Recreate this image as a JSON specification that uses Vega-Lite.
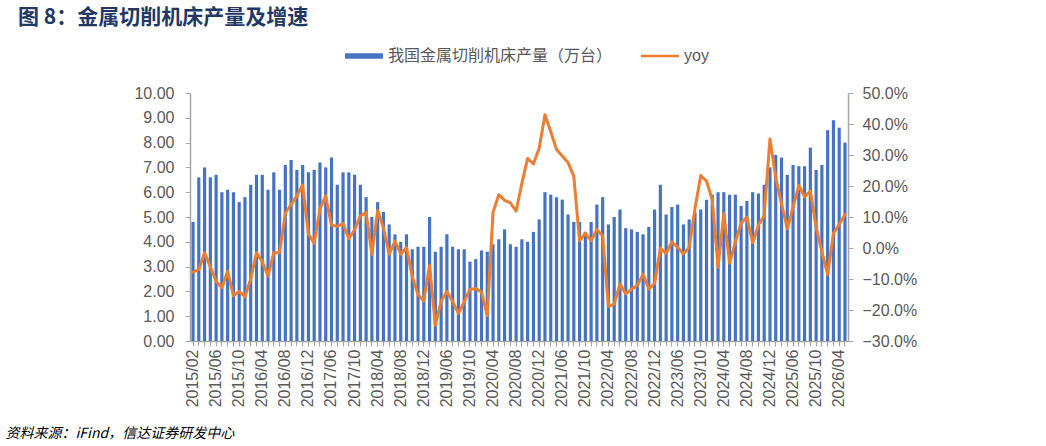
{
  "$schema": "https://vega.github.io/schema/vega-lite/v6.json",
  "autosize": {"type": "none"},
  "width": 658,
  "height": 248,
  "padding": {"left": 190, "top": 93, "right": 198, "bottom": 105},
  "background": "#ffffff",
  "title": {
    "text": "图 8：金属切削机床产量及增速",
    "anchor": "start",
    "frame": "group",
    "dx": -172,
    "fontSize": 21,
    "fontWeight": "bold",
    "font": "Noto Sans CJK SC",
    "color": "#1F3864",
    "offset": 9
  },
  "data": {
    "values": [
      {"m": "2015/02", "v": 4.8, "yoy": -7.8},
      {"m": "2015/03", "v": 6.6, "yoy": -7.0},
      {"m": "2015/04", "v": 7.0, "yoy": -1.5},
      {"m": "2015/05", "v": 6.6, "yoy": -6.1},
      {"m": "2015/06", "v": 6.7, "yoy": -10.7},
      {"m": "2015/07", "v": 6.0, "yoy": -12.8},
      {"m": "2015/08", "v": 6.1, "yoy": -7.5},
      {"m": "2015/09", "v": 6.0, "yoy": -15.4},
      {"m": "2015/10", "v": 5.6, "yoy": -14.0},
      {"m": "2015/11", "v": 5.8, "yoy": -15.7},
      {"m": "2015/12", "v": 6.3, "yoy": -10.0},
      {"m": "2016/03", "v": 6.7, "yoy": -1.5},
      {"m": "2016/04", "v": 6.7, "yoy": -4.4},
      {"m": "2016/05", "v": 6.1, "yoy": -9.0},
      {"m": "2016/06", "v": 6.8, "yoy": -1.5},
      {"m": "2016/07", "v": 6.1, "yoy": -1.5},
      {"m": "2016/08", "v": 7.1, "yoy": 11.2},
      {"m": "2016/09", "v": 7.3, "yoy": 14.1},
      {"m": "2016/10", "v": 6.9, "yoy": 16.8},
      {"m": "2016/11", "v": 7.1, "yoy": 20.3},
      {"m": "2016/12", "v": 6.8, "yoy": 4.5},
      {"m": "2017/03", "v": 6.9, "yoy": 1.5},
      {"m": "2017/04", "v": 7.2, "yoy": 12.6},
      {"m": "2017/05", "v": 7.0, "yoy": 16.8},
      {"m": "2017/06", "v": 7.4, "yoy": 7.3},
      {"m": "2017/07", "v": 6.3, "yoy": 7.0},
      {"m": "2017/08", "v": 6.8, "yoy": 7.9},
      {"m": "2017/09", "v": 6.8, "yoy": 3.0},
      {"m": "2017/10", "v": 6.7, "yoy": 5.8},
      {"m": "2017/11", "v": 6.3, "yoy": 10.4},
      {"m": "2017/12", "v": 5.8, "yoy": 11.4},
      {"m": "2018/03", "v": 5.0, "yoy": -2.0},
      {"m": "2018/04", "v": 5.6, "yoy": 12.1},
      {"m": "2018/05", "v": 5.2, "yoy": 6.5},
      {"m": "2018/06", "v": 4.7, "yoy": -2.0},
      {"m": "2018/07", "v": 4.3, "yoy": 2.2},
      {"m": "2018/08", "v": 4.0, "yoy": -2.0},
      {"m": "2018/09", "v": 4.3, "yoy": 0.2},
      {"m": "2018/10", "v": 3.7, "yoy": -9.3},
      {"m": "2018/11", "v": 3.8, "yoy": -15.1},
      {"m": "2018/12", "v": 3.8, "yoy": -17.1},
      {"m": "2019/03", "v": 5.0, "yoy": -5.6},
      {"m": "2019/04", "v": 3.6, "yoy": -25.0},
      {"m": "2019/05", "v": 3.8, "yoy": -17.1},
      {"m": "2019/06", "v": 4.3, "yoy": -14.0},
      {"m": "2019/07", "v": 3.8, "yoy": -17.3},
      {"m": "2019/08", "v": 3.7, "yoy": -21.1},
      {"m": "2019/09", "v": 3.7, "yoy": -17.4},
      {"m": "2019/10", "v": 3.2, "yoy": -13.3},
      {"m": "2019/11", "v": 3.3, "yoy": -13.1},
      {"m": "2019/12", "v": 3.65, "yoy": -14.2},
      {"m": "2020/03", "v": 3.6, "yoy": -21.8},
      {"m": "2020/04", "v": 3.9, "yoy": 11.5},
      {"m": "2020/05", "v": 4.1, "yoy": 17.2},
      {"m": "2020/06", "v": 4.5, "yoy": 15.4},
      {"m": "2020/07", "v": 3.9, "yoy": 14.6},
      {"m": "2020/08", "v": 3.8, "yoy": 11.9},
      {"m": "2020/09", "v": 4.1, "yoy": 20.9},
      {"m": "2020/10", "v": 4.0, "yoy": 28.9},
      {"m": "2020/11", "v": 4.4, "yoy": 27.1},
      {"m": "2020/12", "v": 4.9, "yoy": 32.2},
      {"m": "2021/03", "v": 6.0, "yoy": 43.0},
      {"m": "2021/04", "v": 5.9, "yoy": 37.6},
      {"m": "2021/05", "v": 5.8, "yoy": 31.8},
      {"m": "2021/06", "v": 5.7, "yoy": 29.7},
      {"m": "2021/07", "v": 5.1, "yoy": 27.6},
      {"m": "2021/08", "v": 4.8, "yoy": 23.1},
      {"m": "2021/09", "v": 4.8, "yoy": 2.3},
      {"m": "2021/10", "v": 4.4, "yoy": 4.8},
      {"m": "2021/11", "v": 4.8, "yoy": 2.3},
      {"m": "2021/12", "v": 5.5, "yoy": 6.0},
      {"m": "2022/03", "v": 5.8, "yoy": 3.9},
      {"m": "2022/04", "v": 4.7, "yoy": -18.8},
      {"m": "2022/05", "v": 5.0, "yoy": -18.1},
      {"m": "2022/06", "v": 5.3, "yoy": -11.6},
      {"m": "2022/07", "v": 4.55, "yoy": -14.8},
      {"m": "2022/08", "v": 4.5, "yoy": -13.3},
      {"m": "2022/09", "v": 4.4, "yoy": -12.0},
      {"m": "2022/10", "v": 4.3, "yoy": -8.5},
      {"m": "2022/11", "v": 4.6, "yoy": -13.2},
      {"m": "2022/12", "v": 5.3, "yoy": -11.4},
      {"m": "2023/03", "v": 6.3, "yoy": 0.0},
      {"m": "2023/04", "v": 5.1, "yoy": -1.8},
      {"m": "2023/05", "v": 5.4, "yoy": 2.0},
      {"m": "2023/06", "v": 5.5, "yoy": 0.2},
      {"m": "2023/07", "v": 4.7, "yoy": -1.9},
      {"m": "2023/08", "v": 4.9, "yoy": 0.2},
      {"m": "2023/09", "v": 5.2, "yoy": 12.7},
      {"m": "2023/10", "v": 5.3, "yoy": 23.4},
      {"m": "2023/11", "v": 5.7, "yoy": 21.6},
      {"m": "2023/12", "v": 5.9, "yoy": 15.5},
      {"m": "2024/03", "v": 6.0, "yoy": -6.2},
      {"m": "2024/04", "v": 6.0, "yoy": 11.1},
      {"m": "2024/05", "v": 5.9, "yoy": -4.9},
      {"m": "2024/06", "v": 5.9, "yoy": 2.0},
      {"m": "2024/07", "v": 5.45, "yoy": 8.0},
      {"m": "2024/08", "v": 5.65, "yoy": 10.0},
      {"m": "2024/09", "v": 6.0, "yoy": 1.7},
      {"m": "2024/10", "v": 5.95, "yoy": 7.3},
      {"m": "2024/11", "v": 6.3, "yoy": 10.5},
      {"m": "2024/12", "v": 7.0, "yoy": 35.2},
      {"m": "2025/03", "v": 7.5, "yoy": 22.7},
      {"m": "2025/04", "v": 7.4, "yoy": 14.3},
      {"m": "2025/05", "v": 6.7, "yoy": 6.2},
      {"m": "2025/06", "v": 7.1, "yoy": 13.2},
      {"m": "2025/07", "v": 7.05, "yoy": 20.2},
      {"m": "2025/08", "v": 7.05, "yoy": 16.5},
      {"m": "2025/09", "v": 7.8, "yoy": 18.4},
      {"m": "2025/10", "v": 6.9, "yoy": 6.7},
      {"m": "2025/11", "v": 7.1, "yoy": -1.2},
      {"m": "2025/12", "v": 8.5, "yoy": -8.5},
      {"m": "2026/03", "v": 8.9, "yoy": 4.7},
      {"m": "2026/04", "v": 8.6, "yoy": 7.6},
      {"m": "2026/05", "v": 8.0, "yoy": 10.8}
    ]
  },
  "encoding": {
    "x": {
      "field": "m",
      "type": "ordinal",
      "sort": null,
      "scale": {"type": "band", "paddingInner": 0.45, "paddingOuter": 0.25},
      "axis": {
        "title": "资料来源：iFind，信达证券研发中心",
        "titleFont": "Noto Sans CJK SC",
        "titleFontSize": 14,
        "titleFontStyle": "italic",
        "titleFontWeight": "normal",
        "titleColor": "#000000",
        "titleAnchor": "start",
        "titleAlign": "left",
        "titleBaseline": "alphabetic",
        "titleX": -185,
        "titleY": 96,
        "labelAngle": -90,
        "labelAlign": "right",
        "labelBaseline": "middle",
        "labelFont": "Liberation Sans",
        "labelFontSize": 16,
        "labelColor": "#595959",
        "labelPadding": 3,
        "labelOverlap": false,
        "labelExpr": "round(datum.index * 113) % 4 == 0 ? datum.label : ''",
        "tickSize": 5,
        "tickColor": "#A6A6A6",
        "domainColor": "#A6A6A6",
        "domainWidth": 1.5
      }
    }
  },
  "layer": [
    {
      "mark": {"type": "bar", "color": "#4472C4"},
      "encoding": {
        "y": {
          "field": "v",
          "type": "quantitative",
          "scale": {"domain": [0, 10], "nice": false},
          "axis": {
            "title": null,
            "orient": "left",
            "values": [0, 1, 2, 3, 4, 5, 6, 7, 8, 9, 10],
            "format": ".2f",
            "grid": false,
            "labelFont": "Liberation Sans",
            "labelFontSize": 16,
            "labelColor": "#595959",
            "labelPadding": 11,
            "tickSize": 5,
            "tickColor": "#A6A6A6",
            "domainColor": "#A6A6A6",
            "domainWidth": 1.5
          }
        },
        "color": {
          "datum": "我国金属切削机床产量（万台）",
          "scale": {
            "domain": ["我国金属切削机床产量（万台）", "yoy"],
            "range": ["#4472C4", "#ED7D31"]
          },
          "legend": {
            "title": null,
            "orient": "none",
            "direction": "horizontal",
            "legendX": 155,
            "legendY": -56,
            "labelFont": "Liberation Sans, Noto Sans CJK SC",
            "labelFontSize": 16,
            "labelColor": "#595959",
            "labelLimit": 400,
            "labelOffset": 5,
            "columnPadding": 28,
            "symbolSize": 1444,
            "symbolStrokeWidth": 0,
            "encode": {
              "symbols": {
                "update": {
                  "shape": {"signal": "datum.value === 'yoy' ? 'M-1,-0.07H1V0.07H-1Z' : 'M-1,-0.14H1V0.14H-1Z'"},
                  "fill": {"scale": "color", "field": "value"},
                  "fillOpacity": {"value": 1},
                  "strokeWidth": {"value": 0}
                }
              }
            }
          }
        }
      }
    },
    {
      "mark": {"type": "line", "strokeWidth": 3, "strokeJoin": "round", "strokeCap": "round"},
      "encoding": {
        "y": {
          "field": "yoy",
          "type": "quantitative",
          "scale": {"domain": [-30, 50], "nice": false},
          "axis": {
            "title": null,
            "orient": "right",
            "values": [-30, -20, -10, 0, 10, 20, 30, 40, 50],
            "labelExpr": "format(datum.value, '.1f') + '%'",
            "grid": false,
            "labelFont": "Liberation Sans",
            "labelFontSize": 16,
            "labelColor": "#595959",
            "labelPadding": 9,
            "tickSize": 5,
            "tickColor": "#A6A6A6",
            "domainColor": "#A6A6A6",
            "domainWidth": 1.5
          }
        },
        "color": {"datum": "yoy"}
      }
    }
  ],
  "resolve": {"scale": {"y": "independent"}},
  "config": {
    "view": {"stroke": null},
    "font": "Liberation Sans"
  }
}
